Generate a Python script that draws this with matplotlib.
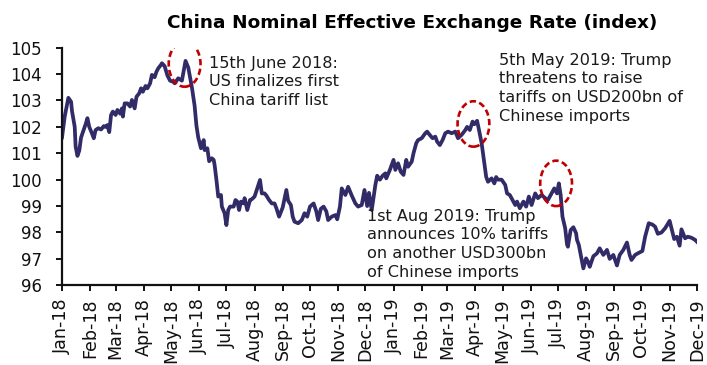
import matplotlib
matplotlib.use("Agg")
import matplotlib.pyplot as plt
import matplotlib.dates as mdates
from matplotlib.patches import Ellipse
import numpy as np

# China nominal effective exchange rate index
dates = [
    "2018-01-01", "2018-01-04", "2018-01-08", "2018-01-11", "2018-01-12", "2018-01-15",
    "2018-01-16", "2018-01-18", "2018-01-20", "2018-01-22", "2018-01-24", "2018-01-27",
    "2018-01-29", "2018-01-31", "2018-02-03", "2018-02-05", "2018-02-07", "2018-02-10",
    "2018-02-13", "2018-02-16", "2018-02-18", "2018-02-20", "2018-02-22", "2018-02-24",
    "2018-02-26", "2018-03-01", "2018-03-03", "2018-03-06", "2018-03-08", "2018-03-09",
    "2018-03-11", "2018-03-14", "2018-03-17", "2018-03-19", "2018-03-22", "2018-03-24",
    "2018-03-27", "2018-03-29", "2018-03-31", "2018-04-03", "2018-04-05", "2018-04-08",
    "2018-04-10", "2018-04-13", "2018-04-15", "2018-04-17", "2018-04-20", "2018-04-21",
    "2018-04-24", "2018-04-27", "2018-04-30", "2018-05-04", "2018-05-05", "2018-05-09",
    "2018-05-13", "2018-05-17", "2018-05-20", "2018-05-24", "2018-05-27", "2018-05-29",
    "2018-05-31", "2018-06-03", "2018-06-06", "2018-06-07", "2018-06-10", "2018-06-12",
    "2018-06-15", "2018-06-17", "2018-06-18", "2018-06-20", "2018-06-22", "2018-06-25",
    "2018-06-26", "2018-06-29", "2018-07-01", "2018-07-03", "2018-07-05", "2018-07-09",
    "2018-07-11", "2018-07-13", "2018-07-15", "2018-07-17", "2018-07-20", "2018-07-21",
    "2018-07-24", "2018-07-27", "2018-07-29", "2018-08-01", "2018-08-04", "2018-08-07",
    "2018-08-09", "2018-08-12", "2018-08-14", "2018-08-17", "2018-08-20", "2018-08-23",
    "2018-08-25", "2018-08-28", "2018-09-01", "2018-09-05", "2018-09-07", "2018-09-10",
    "2018-09-12", "2018-09-14", "2018-09-18", "2018-09-22", "2018-09-25", "2018-09-28",
    "2018-10-01", "2018-10-05", "2018-10-08", "2018-10-10", "2018-10-13", "2018-10-16",
    "2018-10-19", "2018-10-21", "2018-10-25", "2018-10-29", "2018-10-31", "2018-11-03",
    "2018-11-05", "2018-11-09", "2018-11-12", "2018-11-16", "2018-11-20", "2018-11-23",
    "2018-11-27", "2018-11-30", "2018-12-03", "2018-12-05", "2018-12-08", "2018-12-12",
    "2018-12-14", "2018-12-17", "2018-12-20", "2018-12-23", "2018-12-24", "2018-12-28",
    "2019-01-01", "2019-01-03", "2019-01-06", "2019-01-09", "2019-01-12", "2019-01-15",
    "2019-01-17", "2019-01-21", "2019-01-23", "2019-01-26", "2019-01-28", "2019-02-01",
    "2019-02-05", "2019-02-07", "2019-02-10", "2019-02-13", "2019-02-16", "2019-02-18",
    "2019-02-21", "2019-02-24", "2019-02-27", "2019-03-02", "2019-03-06", "2019-03-10",
    "2019-03-13", "2019-03-17", "2019-03-21", "2019-03-23", "2019-03-26", "2019-03-29",
    "2019-03-31", "2019-04-03", "2019-04-05", "2019-04-08", "2019-04-10", "2019-04-13",
    "2019-04-15", "2019-04-19", "2019-04-22", "2019-04-24", "2019-04-26", "2019-04-30",
    "2019-05-04", "2019-05-06", "2019-05-09", "2019-05-12", "2019-05-15", "2019-05-17",
    "2019-05-20", "2019-05-24", "2019-05-27", "2019-05-30", "2019-06-02", "2019-06-06",
    "2019-06-09", "2019-06-13", "2019-06-17", "2019-06-20", "2019-06-24", "2019-06-27",
    "2019-06-30", "2019-07-02", "2019-07-04", "2019-07-06", "2019-07-09", "2019-07-11",
    "2019-07-12", "2019-07-15", "2019-07-18", "2019-07-21", "2019-07-22", "2019-07-24",
    "2019-07-27", "2019-07-29", "2019-08-01", "2019-08-03", "2019-08-05", "2019-08-09",
    "2019-08-13", "2019-08-16", "2019-08-20", "2019-08-24", "2019-08-27", "2019-08-31",
    "2019-09-04", "2019-09-07", "2019-09-11", "2019-09-15", "2019-09-18", "2019-09-20",
    "2019-09-24", "2019-09-27", "2019-10-02", "2019-10-05", "2019-10-09", "2019-10-13",
    "2019-10-16", "2019-10-19", "2019-10-23", "2019-10-27", "2019-11-01", "2019-11-03",
    "2019-11-06", "2019-11-09", "2019-11-12", "2019-11-14", "2019-11-18", "2019-11-21",
    "2019-11-25", "2019-11-29", "2019-12-01",
]
neer = [
    101.6, 102.4, 103.1, 102.95, 102.6, 102.0,
    101.25, 100.9, 101.1, 101.6, 101.8, 102.1,
    102.33, 102.0, 101.75, 101.57, 101.88, 101.95,
    101.9, 102.03, 102.0, 102.07, 101.8, 102.45,
    102.58, 102.45, 102.64, 102.5, 102.7, 102.39,
    102.89, 102.89, 102.77, 103.02, 102.7, 103.14,
    103.27, 103.46, 103.33, 103.55, 103.46, 103.65,
    103.97, 103.88, 104.09, 104.22, 104.35, 104.41,
    104.3, 103.95, 103.75, 103.7, 103.65, 103.84,
    103.75, 104.5, 104.25, 103.5, 102.8, 102.05,
    101.6, 101.19, 101.5, 101.12, 101.19, 100.7,
    100.81, 100.75, 100.56, 100.0, 99.36, 99.42,
    98.98, 98.73, 98.28, 98.85, 98.98, 98.98,
    99.23, 99.17, 98.85, 99.17, 99.1, 99.3,
    98.85, 99.23, 99.26, 99.36, 99.67, 99.99,
    99.48, 99.48, 99.4, 99.23, 99.1, 99.1,
    98.92, 98.6, 98.95, 99.61, 99.2, 99.04,
    98.6, 98.41, 98.35, 98.47, 98.73, 98.6,
    98.98, 99.1, 98.8, 98.47, 98.9, 98.98,
    98.8, 98.47, 98.6, 98.66, 98.5, 98.98,
    99.67, 99.42, 99.73, 99.4, 99.1, 98.98,
    99.04, 99.61, 99.0, 99.5, 98.85, 99.8,
    100.15, 100.0, 100.15, 100.24, 100.05, 100.37,
    100.75, 100.37, 100.62, 100.3, 100.18, 100.75,
    100.49, 100.68, 101.0, 101.38, 101.5, 101.57,
    101.76, 101.82, 101.69, 101.57, 101.63, 101.44,
    101.31, 101.5, 101.76, 101.82, 101.76, 101.82,
    101.57, 101.7, 101.88, 102.0, 101.88, 102.2,
    102.1, 102.23, 101.9, 101.38, 100.87, 100.11,
    99.92, 100.05, 99.86, 100.1, 100.0, 100.0,
    99.8, 99.48, 99.42, 99.23, 99.04, 99.17,
    98.92, 99.17, 98.98, 99.36, 99.04, 99.48,
    99.3, 99.42, 99.3, 99.23, 99.48, 99.67,
    99.48, 99.86, 99.42, 98.6, 98.16, 97.55,
    97.46, 98.09, 98.2, 97.97, 97.72, 97.53,
    97.0, 96.64, 97.02, 96.9, 96.7, 97.1,
    97.21, 97.4, 97.15, 97.34, 97.0, 97.15,
    96.75, 97.15, 97.34, 97.62, 97.15, 96.96,
    97.15, 97.21, 97.3, 97.84, 98.35, 98.3,
    98.22, 97.95, 98.0, 98.16, 98.44, 98.16,
    97.75, 97.84, 97.5, 98.12, 97.78, 97.84,
    97.8, 97.72, 97.65,
]

tick_dates = [
    "2018-01-01", "2018-02-01", "2018-03-01", "2018-04-01", "2018-05-01", "2018-06-01",
    "2018-07-01", "2018-08-01", "2018-09-01", "2018-10-01", "2018-11-01", "2018-12-01",
    "2019-01-01", "2019-02-01", "2019-03-01", "2019-04-01", "2019-05-01", "2019-06-01",
    "2019-07-01", "2019-08-01", "2019-09-01", "2019-10-01", "2019-11-01", "2019-12-01",
]
tick_labels = [
    "Jan-18", "Feb-18", "Mar-18", "Apr-18", "May-18", "Jun-18",
    "Jul-18", "Aug-18", "Sep-18", "Oct-18", "Nov-18", "Dec-18",
    "Jan-19", "Feb-19", "Mar-19", "Apr-19", "May-19", "Jun-19",
    "Jul-19", "Aug-19", "Sep-19", "Oct-19", "Nov-19", "Dec-19",
]
y_ticks = [96, 97, 98, 99, 100, 101, 102, 103, 104, 105]

# Highlighted events (centre of each dashed ring)
event_dates = ["2018-05-16", "2019-03-30", "2019-06-29"]
event_levels = [104.38, 102.11, 99.86]
event_notes = [
    "15th June 2018:\nUS finalizes first\nChina tariff list",
    "5th May 2019: Trump\nthreatens to raise\ntariffs on USD200bn of\nChinese imports",
    "1st Aug 2019: Trump\nannounces 10% tariffs\non another USD300bn\nof Chinese imports",
]
note_anchor = [(0.2315, 0.966), (0.6887, 0.978), (0.4808, 0.322)]

LINE = "#312B68"
RING = "#C00000"

x = np.array(dates, dtype="datetime64[D]")
y = np.array(neer)

fig = plt.figure(figsize=(7.07, 3.65), dpi=100)
ax = fig.add_axes([0.0877, 0.2184, 0.898, 0.651])

ax.plot(x, y, color=LINE, lw=2.7, solid_joinstyle="round", zorder=2)

for d, lv in zip(event_dates, event_levels):
    cx = mdates.date2num(np.datetime64(d))
    ax.add_patch(Ellipse((cx, lv), width=35, height=1.72, fill=False,
                         edgecolor=RING, lw=1.9, linestyle=(0, (2.4, 1.3)),
                         zorder=3))

for note, (fx, fy) in zip(event_notes, note_anchor):
    ax.text(fx, fy, note, transform=ax.transAxes, ha="left", va="top",
            fontsize=11.6, color="#1a1a1a", linespacing=1.3, zorder=4)

ax.set_xlim(np.datetime64("2018-01-01"), np.datetime64("2019-12-01"))
ax.set_ylim(96, 105)
ax.set_yticks(y_ticks)
ax.set_yticklabels([str(v) for v in y_ticks])
ax.set_xticks(np.array(tick_dates, dtype="datetime64[D]"))
ax.set_xticklabels(tick_labels, rotation=90)

for side in ("top", "right"):
    ax.spines[side].set_visible(False)
for side in ("left", "bottom"):
    ax.spines[side].set_linewidth(1.6)
    ax.spines[side].set_color("#111111")

ax.tick_params(axis="both", direction="out", length=4.5, width=1.4,
               color="#111111", labelcolor="#111111")
ax.tick_params(axis="y", labelsize=12, pad=10)
ax.tick_params(axis="x", labelsize=12.6, pad=5)

fig.text(0.583, 0.938, "China Nominal Effective Exchange Rate (index)",
         ha="center", va="center", fontsize=13.3, fontweight="bold",
         color="#000000")

fig.savefig("out.png", dpi=100)
